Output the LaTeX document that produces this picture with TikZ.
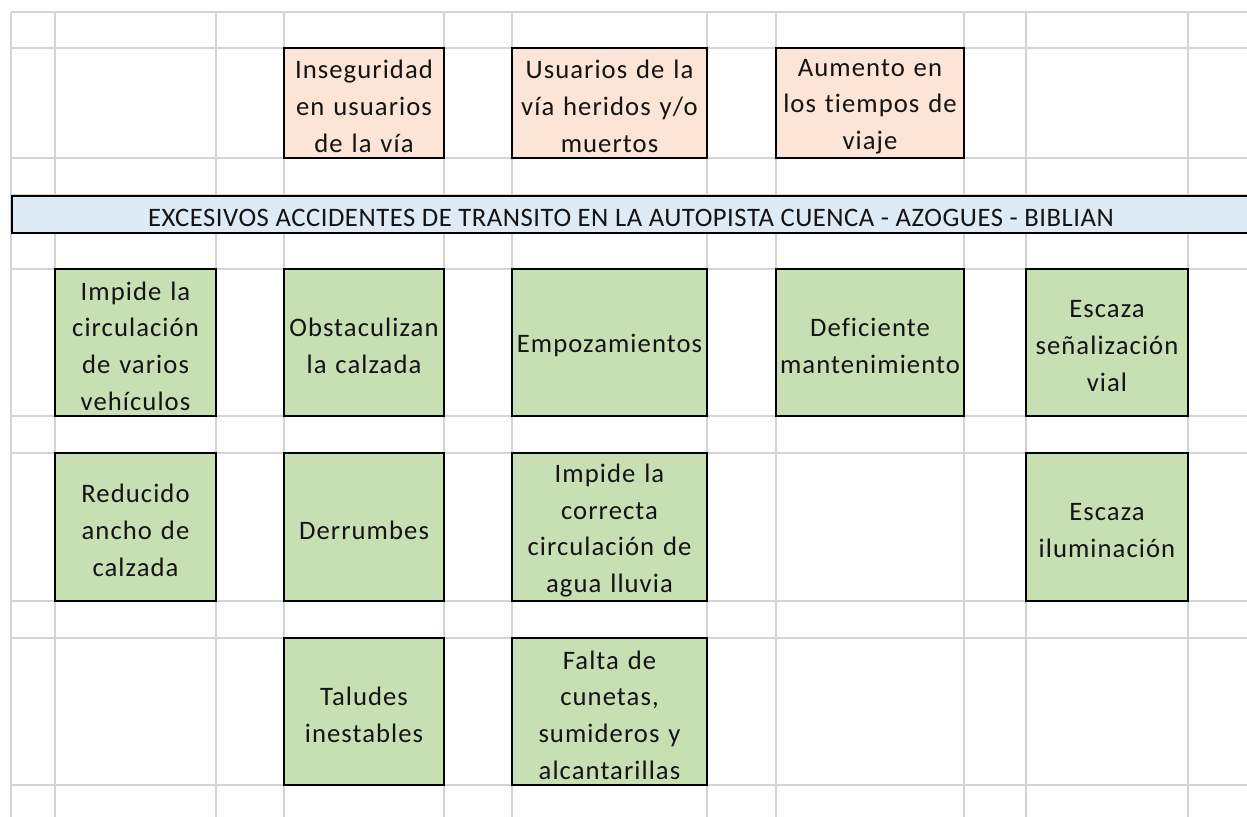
\documentclass[tikz,border=0pt]{standalone}
\usepackage{fontspec}
\newfontfamily\cellfont[LetterSpace=4,Ligatures=NoCommon]{Carlito}
\newfontfamily\bannerfont[LetterSpace=2,Ligatures=NoCommon]{Carlito}
\definecolor{gridgray}{HTML}{D4D4D4}
\definecolor{orangefill}{HTML}{FCE4D6}
\definecolor{greenfill}{HTML}{C6E0B4}
\definecolor{bluefill}{HTML}{DDEBF7}
\tikzset{
  cell/.style={draw=black, line width=1.5pt, inner sep=0pt},
  effectbox/.style={cell, fill=orangefill},
  causebox/.style={cell, fill=greenfill},
  bannerbox/.style={cell, fill=bluefill},
  celltext/.style={inner sep=0pt, align=center, text=black!92,
    font={\cellfont\fontsize{20pt}{27.5pt}\selectfont}},
  bannertext/.style={inner sep=0pt, text=black!92,
    font={\bannerfont\fontsize{20pt}{27.5pt}\selectfont}},
  gridline/.style={draw=gridgray, line width=1.4pt},
}
% name, style, x1, y1, x2, y2, text
\newcommand\cellbox[7]{%
  \pgfmathsetmacro\cbw{(#5-#3)*0.75}%
  \pgfmathsetmacro\cbh{(#6-#4)*0.75}%
  \node[#2, minimum width=\cbw pt, minimum height=\cbh pt]
    (#1) at ({(#3+#5)/2},{(#4+#6)/2}) {};
  \node[celltext, text width=\cbw pt] (#1text) at ([yshift=-2.6pt]#1.center) {#7};}
\begin{document}
\begin{tikzpicture}[x=0.75pt,y=-0.75pt]
\useasboundingbox (0,0) rectangle (1247,817);
\clip (0,0) rectangle (1247,817);
\fill[white] (0,0) rectangle (1247,817);
% grid
\foreach \gx in {11,55,216,284,444,512,707,776,964,1026,1188}
  \draw[gridline] (\gx,12) -- (\gx,817);
\foreach \gy in {12,48,158,195,232,269,416,453,601,638,785}
  \draw[gridline] (11,\gy) -- (1247,\gy);
% effects
\cellbox{e1}{effectbox}{284}{48}{444}{158}{Inseguridad\\en usuarios\\de la vía}
\cellbox{e2}{effectbox}{512}{48}{707}{158}{Usuarios de la\\vía heridos y/o\\muertos}
\cellbox{e3}{effectbox}{776}{48}{964}{158}{Aumento en\\los tiempos de\\viaje}
% problem
\node[bannerbox, minimum width=933pt, minimum height=27.75pt, anchor=north west]
  (prob) at (11,195) {};
\node[bannertext] (probtext) at (631,217.5)
  {EXCESIVOS ACCIDENTES DE TRANSITO EN LA AUTOPISTA CUENCA - AZOGUES - BIBLIAN};
% causes row 1
\cellbox{c11}{causebox}{55}{269}{216}{416}{Impide la\\circulación\\de varios\\vehículos}
\cellbox{c12}{causebox}{284}{269}{444}{416}{Obstaculizan\\la calzada}
\cellbox{c13}{causebox}{512}{269}{707}{416}{Empozamientos}
\cellbox{c14}{causebox}{776}{269}{964}{416}{Deficiente\\mantenimiento}
\cellbox{c15}{causebox}{1026}{269}{1188}{416}{Escaza\\señalización\\vial}
% causes row 2
\cellbox{c21}{causebox}{55}{453}{216}{601}{Reducido\\ancho de\\calzada}
\cellbox{c22}{causebox}{284}{453}{444}{601}{Derrumbes}
\cellbox{c23}{causebox}{512}{453}{707}{601}{Impide la\\correcta\\circulación de\\agua lluvia}
\cellbox{c25}{causebox}{1026}{453}{1188}{601}{Escaza\\iluminación}
% causes row 3
\cellbox{c32}{causebox}{284}{638}{444}{785}{Taludes\\inestables}
\cellbox{c33}{causebox}{512}{638}{707}{785}{Falta de\\cunetas,\\sumideros y\\alcantarillas}
\end{tikzpicture}
\end{document}
